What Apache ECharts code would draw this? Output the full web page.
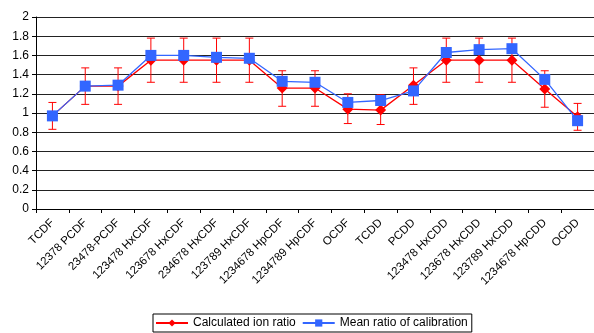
<!DOCTYPE html>
<html><head><meta charset="utf-8">
<script src="https://cdn.jsdelivr.net/npm/echarts@6/dist/echarts.min.js"></script>
<style>html,body{margin:0;padding:0;background:#fff}#c{width:594px;height:333px}</style>
</head><body><div id="c"></div>
<script>
const categories = ["TCDF","12378 PCDF","23478-PCDF","123478 HxCDF","123678 HxCDF","234678 HxCDF","123789 HxCDF","1234678 HpCDF","1234789 HpCDF","OCDF","TCDD","PCDD","123478 HxCDD","123678 HxCDD","123789 HxCDD","1234678 HpCDD","OCDD"];
const calculated = [0.97,1.28,1.28,1.55,1.55,1.55,1.55,1.26,1.26,1.04,1.03,1.29,1.55,1.55,1.55,1.25,0.96];
const errLow  = [0.83,1.09,1.09,1.32,1.32,1.32,1.32,1.07,1.07,0.89,0.88,1.09,1.32,1.32,1.32,1.06,0.82];
const errHigh = [1.11,1.47,1.47,1.78,1.78,1.78,1.78,1.44,1.44,1.20,1.19,1.47,1.78,1.78,1.78,1.44,1.10];
const meanCal = [0.97,1.28,1.29,1.60,1.60,1.58,1.57,1.33,1.32,1.11,1.13,1.23,1.63,1.66,1.67,1.35,0.92];
const yTicks = [0,0.2,0.4,0.6,0.8,1,1.2,1.4,1.6,1.8,2];

const chart = echarts.init(document.getElementById('c'), null, {renderer:'canvas'});
const font = 'Arial, "Liberation Sans", sans-serif';
chart.setOption({
  animation:false,
  grid:{left:36, top:17, height:192, right:-9},
  legend:{
    left:153, top:314, itemGap:6, itemWidth:32, itemHeight:9,
    borderColor:'#000', borderWidth:1, padding:[3,4,3,2],
    textStyle:{fontFamily:font, fontSize:12, color:'#000'},
    data:['Calculated ion ratio','Mean ratio of calibration']
  },
  xAxis:{
    type:'category', data:categories, boundaryGap:true,
    axisLine:{lineStyle:{color:'#000',width:1}},
    axisTick:{show:true, length:4, lineStyle:{color:'#000'}},
    axisLabel:{rotate:45, interval:0, fontFamily:font, fontSize:11.5, color:'#000', margin:12}
  },
  yAxis:{
    type:'value', min:0, max:2, interval:0.2,
    axisLine:{show:true, lineStyle:{color:'#000'}},
    axisTick:{show:true, length:4, lineStyle:{color:'#000'}},
    axisLabel:{fontFamily:font, fontSize:12, color:'#000', margin:7,
      formatter:v=>{ const t=yTicks.find(x=>Math.abs(x-v)<1e-6); return t===undefined?'':String(t);} },
    splitLine:{lineStyle:{color:'#222',width:1}}
  },
  series:[
    {
      type:'custom', name:'err', z:3, silent:true,
      data: categories.map((c,i)=>[i, errLow[i], errHigh[i]]),
      renderItem:(params, api)=>{
        const x = api.value(0);
        const lo = api.coord([x, api.value(1)]);
        const hi = api.coord([x, api.value(2)]);
        const w = 4;
        const st = {stroke:'#ff0000', lineWidth:1};
        return {type:'group', children:[
          {type:'line', shape:{x1:lo[0],y1:lo[1],x2:hi[0],y2:hi[1]}, style:st},
          {type:'line', shape:{x1:lo[0]-w,y1:lo[1],x2:lo[0]+w,y2:lo[1]}, style:st},
          {type:'line', shape:{x1:hi[0]-w,y1:hi[1],x2:hi[0]+w,y2:hi[1]}, style:st}
        ]};
      }
    },
    {
      name:'Calculated ion ratio', type:'line', data:calculated, z:4,
      symbol:'diamond', symbolSize:11,
      lineStyle:{color:'#ff0000', width:1.3},
      itemStyle:{color:'#ff0000'}
    },
    {
      name:'Mean ratio of calibration', type:'line', data:meanCal, z:5,
      symbol:'rect', symbolSize:11,
      lineStyle:{color:'#3366ff', width:1.3},
      itemStyle:{color:'#3366ff'}
    }
  ]
});
</script></body></html>
